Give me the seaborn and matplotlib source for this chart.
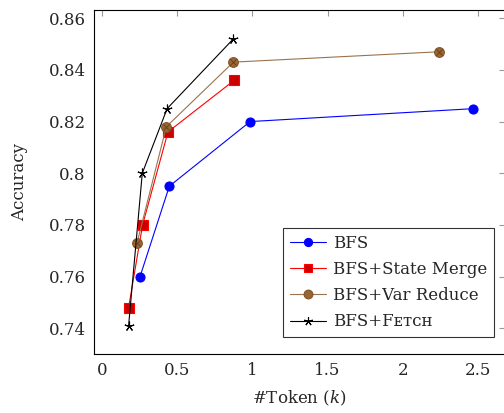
import numpy as np
import pandas as pd
import matplotlib
matplotlib.use("Agg")
import matplotlib.pyplot as plt
import seaborn as sns

# Values.
bfs_tokens = [0.253, 0.448, 0.985, 2.47]
bfs_acc = [0.760, 0.795, 0.820, 0.825]

merge_tokens = [0.177, 0.270, 0.439, 0.880]
merge_acc = [0.748, 0.780, 0.816, 0.836]

reduce_tokens = [0.233, 0.428, 0.874, 2.24]
reduce_acc = [0.773, 0.818, 0.843, 0.847]

fetch_tokens = [0.177, 0.268, 0.433, 0.874]
fetch_acc = [0.741, 0.800, 0.825, 0.852]

x_ticks = [0, 0.5, 1, 1.5, 2, 2.5]
x_tick_labels = ["0", "0.5", "1", "1.5", "2", "2.5"]
y_ticks = [0.74, 0.76, 0.78, 0.80, 0.82, 0.84, 0.86]
y_tick_labels = ["0.74", "0.76", "0.78", "0.8", "0.82", "0.84", "0.86"]

sns.set_theme(style="white")
plt.rcParams['font.family'] = ['DejaVu Serif', 'Liberation Serif']
plt.rcParams['mathtext.fontset'] = 'dejavuserif'

fig = plt.figure(figsize=(5.04, 4.13), dpi=100)
ax = fig.add_axes([0.1865, 0.143, 0.8155, 0.833])

# (label, x, y, line colour, marker, marker face, marker edge, size)
series = [
    ("BFS", bfs_tokens, bfs_acc, "#0000ff", "o", "#0000ff", "#0000ff", 6.5),
    ("BFS+State Merge", merge_tokens, merge_acc, "#ff0000", "s", "#cc0000", "#ff0000", 6.5),
    ("BFS+Var Reduce", reduce_tokens, reduce_acc, "#99734d", "o", "#996633", "#80552b", 7),
    ("BFS+F\u1d07\u1d1b\u1d04\u029c", fetch_tokens, fetch_acc, "#000000", (5, 2, 0), "none", "#000000", 7),
]

for label, xs, ys, col, mk, mfc, mec, ms in series:
    df = pd.DataFrame({"tokens": xs, "acc": ys})
    sns.lineplot(data=df, x="tokens", y="acc", ax=ax, color=col, lw=0.8,
                 marker=mk, markersize=ms, markerfacecolor=mfc,
                 markeredgecolor=mec, markeredgewidth=0.8, label=label,
                 sort=False)

# cross inside the brown circles (otimes look)
ax.plot(reduce_tokens, reduce_acc, ls="none", marker="x", ms=4,
        mec="#5c3d1e", mew=0.6)

ax.set_xlim(-0.053, 2.68)
ax.set_ylim(0.7301, 0.8632)
ax.set_xticks(x_ticks)
ax.set_xticklabels(x_tick_labels)
ax.set_yticks(y_ticks)
ax.set_yticklabels(y_tick_labels)
ax.tick_params(direction="in", length=4, width=0.8, color="#999999",
               top=True, right=True, labelsize=12, pad=6)
for s in ax.spines.values():
    s.set_color("black")
    s.set_linewidth(0.8)

ax.set_xlabel(r"#Token ($k$)", fontsize=12, labelpad=7)
ax.set_ylabel("Accuracy", fontsize=12, labelpad=15)

leg = ax.legend(loc="lower right", bbox_to_anchor=(0.993, 0.025), fontsize=12,
                frameon=True, fancybox=False, edgecolor="black",
                handlelength=2.2, handletextpad=0.4, borderpad=0.4,
                labelspacing=0.55, markerscale=0.9)
leg.get_frame().set_linewidth(0.8)

fig.savefig("out.png", dpi=100)
